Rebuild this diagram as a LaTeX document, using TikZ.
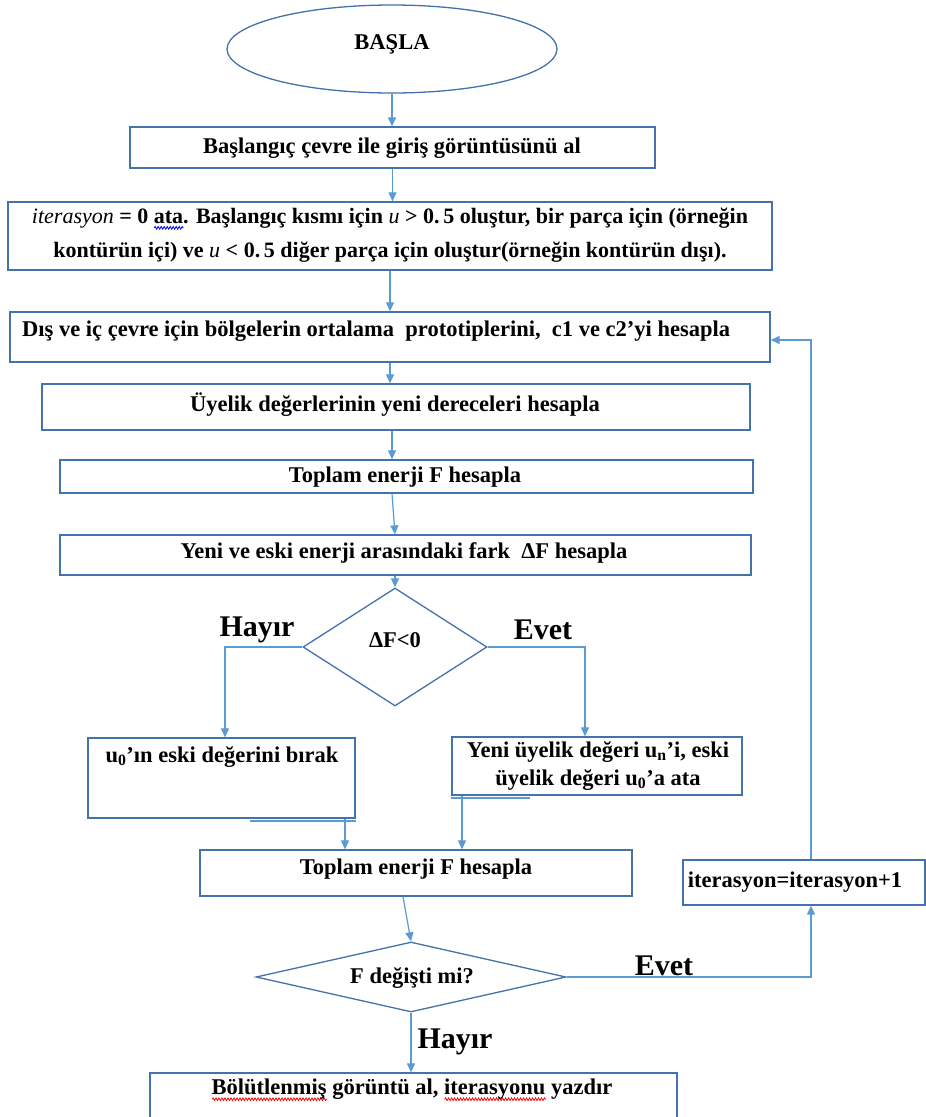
\documentclass[tikz,border=0pt]{standalone}
\usepackage{fontspec}
\setmainfont{Liberation Serif}
\usetikzlibrary{arrows.meta,shapes.geometric,calc,decorations.pathmorphing}
\definecolor{bord}{RGB}{68,114,172}
\definecolor{conn}{RGB}{91,155,213}
\newsavebox\wavebox
\newcommand\wavyword[2]{\sbox\wavebox{#2}\rlap{\tikz[x=1pt,y=1pt,baseline=0pt]{\draw[#1,line width=0.8pt,decorate,decoration={snake,amplitude=1.3pt,segment length=3pt}] (0pt,-4.5pt) -- (\wd\wavebox,-4.5pt);}}\usebox\wavebox}
\begin{document}
\begin{tikzpicture}[x=1pt,y=-1pt,
  box/.style={draw=bord,line width=1.3pt,rectangle,inner sep=0pt},
  dia/.style={draw=bord,line width=1.3pt,diamond,inner sep=0pt},
  txt/.style={font=\fontsize{22.5}{34}\selectfont\bfseries,inner sep=0pt,align=center},
  lab/.style={font=\fontsize{30}{34}\selectfont\bfseries,inner sep=0pt},
  arr/.style={draw=conn,line width=1.2pt,-{Triangle[length=9pt,width=8pt]}},
  ln/.style={draw=conn,line width=1.2pt}]
\useasboundingbox (0,0) rectangle (926,1117);
\clip (0,0) rectangle (926,1117);
\fill[white] (0,0) rectangle (926,1117);

% shapes
\node[draw=bord,line width=1.3pt,ellipse,minimum width=330pt,minimum height=88pt,inner sep=0pt] (start) at (392,49) {};
\node[box,minimum width=525pt,minimum height=41pt] (b1) at (392.5,147.5) {};
\node[box,minimum width=764pt,minimum height=68pt] (b2) at (390,236) {};
\node[box,minimum width=760pt,minimum height=50pt] (b3) at (390,337) {};
\node[box,minimum width=708pt,minimum height=46pt] (b4) at (396,407) {};
\node[box,minimum width=693pt,minimum height=33pt] (b5) at (406.5,476.5) {};
\node[box,minimum width=691pt,minimum height=40pt] (b6) at (405.5,555) {};
\node[dia,minimum width=184pt,minimum height=118pt] (d1) at (395,647) {};
\node[box,minimum width=267pt,minimum height=80pt] (b7) at (221.5,778) {};
\node[box,minimum width=290pt,minimum height=58pt] (b8) at (597,766) {};
\node[box,minimum width=432pt,minimum height=46pt] (b9) at (416,873) {};
\node[dia,minimum width=310pt,minimum height=70pt] (d2) at (411,977) {};
\node[box,minimum width=242pt,minimum height=45pt] (it) at (804,882.5) {};
\node[box,minimum width=527pt,minimum height=67pt] (b10) at (413.5,1106.5) {};

% texts
\node[txt] (t0) at (392,44) {BAŞLA};
\node[txt] (t1) at (392,148) {Başlangıç çevre ile giriş görüntüsünü al};
\node[txt,font=\fontsize{22}{34}\selectfont\bfseries] (t2) at (390,235)
  {{\mdseries\itshape iterasyon} = 0 \wavyword{blue}{ata}. Başlangıç kısmı için {\mdseries\itshape u} > 0.\,5 oluştur, bir parça için (örneğin\\
   kontürün içi) ve {\mdseries\itshape u} < 0.\,5 diğer parça için oluştur(örneğin kontürün dışı).};
\node[txt,anchor=west] (t3) at (22,331) {Dış ve iç çevre için bölgelerin ortalama\ \ prototiplerini,\ \ c1 ve c2’yi hesapla};
\node[txt] (t4) at (395,405) {Üyelik değerlerinin yeni dereceleri hesapla};
\node[txt] (t5) at (405,477) {Toplam enerji F hesapla};
\node[txt] (t6) at (404,553) {Yeni ve eski enerji arasındaki fark\ \ ΔF hesapla};
\node[txt] (t7) at (395,640) {ΔF<0};
\node[lab] (hy1) at (257,630) {Hayır};
\node[lab] (ev1) at (543,630) {Evet};
\node[txt] (t8) at (222,757) {u\textsubscript{0}’ın eski değerini bırak};
\node[txt,font=\fontsize{22.5}{28}\selectfont\bfseries] (t9) at (598,766) {Yeni üyelik değeri u\textsubscript{n}’i, eski\\üyelik değeri u\textsubscript{0}’a ata};
\node[txt] (t10) at (416,869) {Toplam enerji F hesapla};
\node[txt] (t11) at (412,978) {F değişti mi?};
\node[lab] (ev2) at (664,966) {Evet};
\node[txt] (t12) at (795,882) {iterasyon=iterasyon+1};
\node[lab] (hy2) at (455,1042) {Hayır};
\node[txt] (t13) at (412,1090) {\wavyword{red}{Bölütlenmiş} görüntü al, \wavyword{red}{iterasyonu} yazdır};

% connectors
\draw[arr] (start.south) -- (start.south |- b1.north);
\draw[arr] (b1.south) -- (b1.south |- b2.north);
\draw[arr] (b2.south) -- (b2.south |- b3.north);
\draw[arr] (b3.south) -- (b3.south |- b4.north);
\draw[arr] ([xshift=-4pt]b4.south) -- ([xshift=-4pt]b4.south |- b5.north);
\draw[arr] ([xshift=-14.5pt]b5.south) -- ([xshift=-10.5pt]b6.north);
\draw[arr] ([xshift=-10.5pt]b6.south) -- (d1.north);
\draw[arr] (d1.west) -| ([xshift=3.5pt]b7.north);
\draw[arr] (d1.east) -| ([xshift=-12pt]b8.north);
\draw[arr] ([xshift=123.5pt]b7.south) -- ([xshift=123.5pt]b7.south |- b9.north);
\draw[arr] ([xshift=-135pt]b8.south) -- ([xshift=-135pt]b8.south |- b9.north);
\draw[arr] ([xshift=-13pt]b9.south) -- (d2.north);
\draw[arr] (d2.east) -| ([xshift=7pt]it.south);
\draw[arr] ([xshift=7pt]it.north) |- ([yshift=-3pt]b3.east);
\draw[arr] (d2.south) -- (d2.south |- b10.north);
% overlapping line fragments under the two branch boxes
\draw[ln,line width=2pt] ([xshift=28.5pt,yshift=-2pt]b7.south) -- ([yshift=-2pt]b7.south east);
\draw[ln,line width=2pt] ([yshift=-2pt]b8.south west) -- ([xshift=-67pt,yshift=-2pt]b8.south);
\end{tikzpicture}
\end{document}
